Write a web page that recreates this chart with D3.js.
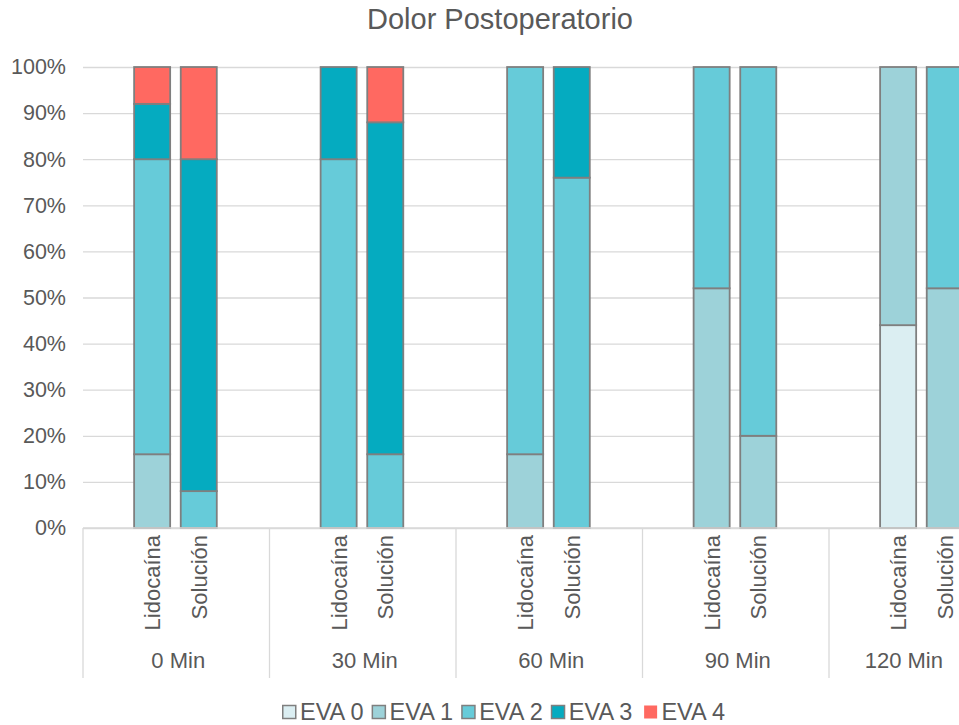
<!DOCTYPE html>
<html lang="es">
<head>
<meta charset="utf-8">
<script src="https://cdn.jsdelivr.net/npm/d3@7"></script>
<style>
  html, body { margin: 0; padding: 0; background: #fff; }
  svg { display: block; font-family: "Liberation Sans", Arial, sans-serif; }
</style>
</head>
<body>
<svg id="chart" width="959" height="725"></svg>
<script>
// Time points and treatments (each time point holds two stacked columns)
const groups = ["0 Min", "30 Min", "60 Min", "90 Min", "120 Min"];
const treatments = ["Lidocaína", "Solución"];

// Share of patients (%) per pain level, ordered time point × treatment
const eva0 = [0, 0,   0, 0,   0, 0,   0, 0,   44, 0];
const eva1 = [16, 0,  0, 0,   16, 0,  52, 20, 56, 52];
const eva2 = [64, 8,  80, 16, 84, 76, 48, 80, 0, 48];
const eva3 = [12, 72, 20, 72, 0, 24,  0, 0,   0, 0];
const eva4 = [8, 20,  0, 12,  0, 0,   0, 0,   0, 0];

const seriesNames = ["EVA 0", "EVA 1", "EVA 2", "EVA 3", "EVA 4"];
const seriesValues = [eva0, eva1, eva2, eva3, eva4];
const seriesColors = ["#dbeef2", "#9dd2d9", "#66cbd9", "#05abc0", "#ff6961"];
const yTicks = [0, 0.1, 0.2, 0.3, 0.4, 0.5, 0.6, 0.7, 0.8, 0.9, 1];

// Flatten into rows the stack layout can use
const rows = [];
groups.forEach((g, gi) => {
  treatments.forEach((t, ti) => {
    const i = gi * treatments.length + ti;
    const row = { group: g, treatment: t };
    seriesNames.forEach((s, si) => { row[s] = seriesValues[si][i] / 100; });
    rows.push(row);
  });
});

const W = 959;
const svg = d3.select("#chart");
const font = "'Liberation Sans', Arial, sans-serif";
const textColor = "#595959";

const plot = { left: 83, top: 67, bottom: 528, right: 1015.5 };

const x0 = d3.scaleBand().domain(groups).range([plot.left, plot.right]).padding(0);
// Four slots per time point: empty, Lidocaína, Solución, empty
const x1 = d3.scaleBand()
  .domain(["_pre", ...treatments, "_post"])
  .range([0, x0.bandwidth()])
  .paddingInner(0.227)
  .paddingOuter(0.1135);
const y = d3.scaleLinear().domain([0, 1]).range([plot.bottom, plot.top]);
const color = d3.scaleOrdinal().domain(seriesNames).range(seriesColors);
const barX = d => x0(d.group) + x1(d.treatment) - 0.8;

// Title
svg.append("text")
  .attr("x", 500).attr("y", 29)
  .attr("text-anchor", "middle")
  .style("font-size", "29px")
  .style("fill", textColor)
  .text("Dolor Postoperatorio");

// Horizontal gridlines
svg.append("g")
  .attr("transform", `translate(${plot.left},0)`)
  .call(d3.axisLeft(y).tickValues(yTicks).tickSize(-(plot.right - plot.left)).tickFormat(""))
  .call(g => g.select(".domain").remove())
  .call(g => g.selectAll("line").attr("stroke", "#d9d9d9").attr("stroke-width", 1.3));

// Y axis labels
svg.append("g")
  .attr("transform", `translate(${plot.left},0)`)
  .call(d3.axisLeft(y).tickValues(yTicks).tickSize(0).tickPadding(17).tickFormat(d3.format(".0%")))
  .call(g => g.select(".domain").remove())
  .call(g => g.selectAll("text")
    .style("font-family", font)
    .style("font-size", "21.5px")
    .style("fill", textColor));

// Stacked columns
const stack = d3.stack().keys(seriesNames);
const layers = stack(rows);

svg.append("g")
  .selectAll("g")
  .data(layers)
  .join("g")
  .attr("fill", d => color(d.key))
  .selectAll("rect")
  .data(d => d.filter(p => p[1] - p[0] > 0))
  .join("rect")
  .attr("x", d => barX(d.data))
  .attr("width", x1.bandwidth())
  .attr("y", d => y(d[1]))
  .attr("height", d => y(d[0]) - y(d[1]))
  .attr("stroke", "#7f7f7f")
  .attr("stroke-width", 1.8);

// Category axis: baseline and group separators
svg.append("line")
  .attr("x1", plot.left).attr("x2", plot.right)
  .attr("y1", plot.bottom).attr("y2", plot.bottom)
  .attr("stroke", "#d9d9d9").attr("stroke-width", 1.3);

svg.append("g")
  .selectAll("line")
  .data(groups.concat(["_end"]))
  .join("line")
  .attr("x1", (d, i) => plot.left + i * x0.step())
  .attr("x2", (d, i) => plot.left + i * x0.step())
  .attr("y1", plot.bottom)
  .attr("y2", 678)
  .attr("stroke", "#d9d9d9").attr("stroke-width", 1.3);

// Rotated treatment labels
svg.append("g")
  .selectAll("text")
  .data(rows)
  .join("text")
  .attr("transform", d => {
    const cx = barX(d) + x1.bandwidth() / 2;
    return `translate(${cx},535) rotate(-90)`;
  })
  .attr("text-anchor", "end")
  .attr("dy", "0.36em")
  .style("font-size", "22px")
  .style("fill", textColor)
  .text(d => d.treatment);

// Time-point labels (kept inside the visible width)
svg.append("g")
  .selectAll("text")
  .data(groups)
  .join("text")
  .attr("y", 668)
  .attr("text-anchor", "middle")
  .style("font-size", "22px")
  .style("fill", textColor)
  .text(d => d)
  .attr("x", function (d) {
    const w = this.getComputedTextLength();
    return Math.min(x0(d) + x0.bandwidth() / 2 + 2, W - 16 - w / 2);
  });

// Legend
const legend = svg.append("g").attr("transform", "translate(282,0)");
let lx = 0;
seriesNames.forEach((name, i) => {
  const item = legend.append("g").attr("transform", `translate(${lx},0)`);
  item.append("rect")
    .attr("x", 0.75).attr("y", 705.5)
    .attr("width", 13).attr("height", 13)
    .attr("fill", color(name))
    .attr("stroke", i === seriesNames.length - 1 ? "none" : "#7f7f7f")
    .attr("stroke-width", 1.5);
  const t = item.append("text")
    .attr("x", 18).attr("y", 720)
    .style("font-size", "23.5px")
    .style("fill", textColor)
    .text(name);
  lx += 18 + t.node().getComputedTextLength() + (i === seriesNames.length - 2 ? 11 : 8);
});
</script>
</body>
</html>
